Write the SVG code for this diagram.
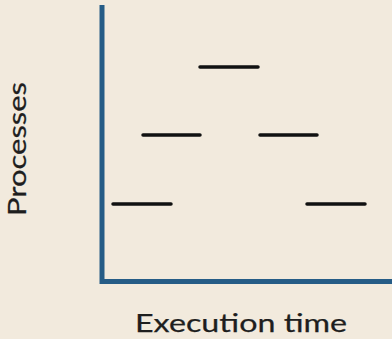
<svg xmlns="http://www.w3.org/2000/svg" width="392" height="339" viewBox="0 0 392 339">
  <style>
    .axis { stroke: #265c86; stroke-width: 5; fill: none; stroke-linecap: butt; }
    .bar { stroke: #111; stroke-width: 3.5; stroke-linecap: round; }
    .label { font-family: Lato, "Open Sans", sans-serif; font-size: 25px; fill: #1e1e1e; stroke: #1e1e1e; stroke-width: 0.25; }
  </style>
  <rect width="392" height="339" fill="#f2eadd"/>

  <!-- axes -->
  <g id="axes">
    <path class="axis" d="M102,5 V281.5 H392"/>
  </g>

  <!-- process execution bars -->
  <g id="bars">
    <line class="bar" x1="200" y1="67" x2="258" y2="67"/>
    <line class="bar" x1="143" y1="135" x2="200" y2="135"/>
    <line class="bar" x1="260" y1="135" x2="317" y2="135"/>
    <line class="bar" x1="113" y1="204" x2="171" y2="204"/>
    <line class="bar" x1="307" y1="204" x2="365" y2="204"/>
  </g>

  <!-- axis titles -->
  <g id="y-title">
    <text class="label" transform="translate(25.5,216) rotate(-90)" x="0" y="0" textLength="134" lengthAdjust="spacingAndGlyphs">Processes</text>
  </g>
  <g id="x-title">
    <text class="label" x="135" y="332" textLength="212" lengthAdjust="spacingAndGlyphs">Execution time</text>
  </g>
</svg>
